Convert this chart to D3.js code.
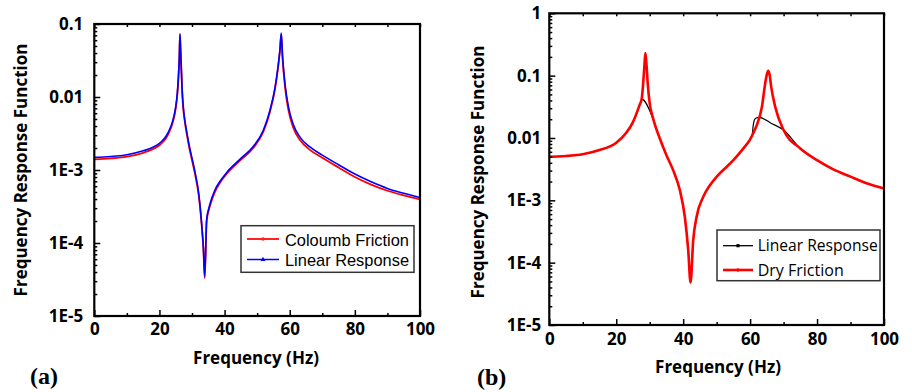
<!DOCTYPE html>
<html lang="en">
<head>
    <meta charset="UTF-8">
    <title>Frequency Response Function</title>
    <script src="https://d3js.org/d3.v7.min.js"></script>
    <style>
        body {
            margin: 0;
            padding: 0;
            background: #fff;
        }
        svg {
            display: block;
        }
        .tick-label text {
            font-family: "Open Sans", sans-serif;
            font-weight: bold;
            font-size: 17px;
            fill: #000;
        }
        .axis-title {
            font-family: "Open Sans", sans-serif;
            font-weight: bold;
            font-size: 17px;
        }
        .panel-label {
            font-family: "Liberation Serif", serif;
            font-weight: bold;
            font-size: 24px;
        }
    </style>
</head>
<body>
    <svg id="chart" width="912" height="392"></svg>

    <script>
        // Panel (a): values
        const freqA = [0, 5, 10, 15, 18, 20, 21, 22, 23, 24, 24.5, 25, 25.5, 25.8, 26.1, 26.3, 26.5, 26.8, 27.0, 27.3, 27.8,
            28.4, 29.2, 30, 31, 32, 33, 33.5, 33.9,
            34.5, 35.5, 37.1, 38.6, 40.6, 44.7, 48.8, 51.9, 53.9, 55.5, 56.5, 57.0, 57.4, 57.8, 58.6, 59.6, 61.1, 63.2, 66,
            70, 75, 80, 85, 90, 95, 100];
        const coulombA = [1.40e-3, 1.44e-3, 1.52e-3, 1.72e-3, 1.93e-3, 2.18e-3, 2.4e-3, 2.72e-3, 3.3e-3, 4.35e-3, 5.3e-3,
            7.0e-3, 0.0109, 0.017, 0.033, 0.070, 0.042, 0.019, 0.0114, 7.1e-3, 4.55e-3,
            3.1e-3, 1.98e-3, 1.36e-3, 8.5e-4, 4.7e-4, 1.68e-4, 8.2e-5, 3.3e-5,
            2.0e-4, 3.2e-4, 5.1e-4, 6.7e-4, 8.8e-4, 1.34e-3, 2.0e-3, 3.35e-3, 6.2e-3, 0.013, 0.027, 0.043, 0.072, 0.034,
            0.0132, 6.6e-3, 3.8e-3, 2.55e-3, 1.92e-3, 1.47e-3, 1.08e-3, 8.0e-4, 6.3e-4, 5.2e-4, 4.5e-4, 3.97e-4];
        const linearA = [1.49e-3, 1.53e-3, 1.62e-3, 1.83e-3, 2.05e-3, 2.32e-3, 2.55e-3, 2.9e-3, 3.5e-3, 4.6e-3, 5.6e-3,
            7.4e-3, 0.0115, 0.018, 0.035, 0.074, 0.045, 0.020, 0.012, 7.5e-3, 4.8e-3,
            3.3e-3, 2.1e-3, 1.45e-3, 9.0e-4, 5.0e-4, 1.75e-4, 8.5e-5, 3.5e-5,
            2.1e-4, 3.4e-4, 5.4e-4, 7.0e-4, 9.2e-4, 1.4e-3, 2.1e-3, 3.5e-3, 6.5e-3, 0.0135, 0.028, 0.045, 0.075, 0.036,
            0.0145, 7.4e-3, 4.2e-3, 2.8e-3, 2.1e-3, 1.6e-3, 1.18e-3, 8.8e-4, 6.9e-4, 5.6e-4, 4.8e-4, 4.2e-4];

        // Panel (b)
        const freqB = [0, 5, 10, 15, 20, 23, 25, 27, 27.6, 28, 28.4, 28.7, 29.0, 29.4, 30, 31, 33, 35, 37, 39, 40.5, 41.5,
            42.2, 43, 44, 46, 48, 50, 55, 58, 60, 61, 62, 63.5, 64.5, 65.0, 65.4, 65.8, 66.3, 67.5, 70, 75, 80, 85, 90, 95, 100];
        const dryB = [5.0e-3, 5.15e-3, 5.5e-3, 6.4e-3, 8.4e-3, 0.0121, 0.018, 0.034, 0.042, 0.07, 0.14, 0.23, 0.16, 0.075,
            0.036, 0.0206, 9.9e-3, 5.3e-3, 3.05e-3, 1.46e-3, 5.4e-4, 1.6e-4,
            4.8e-5, 2.3e-4, 5.4e-4, 1.14e-3, 1.75e-3, 2.39e-3, 4.4e-3, 6.8e-3, 9.5e-3, 0.0122, 0.0161, 0.031, 0.075, 0.105,
            0.12, 0.105, 0.066, 0.0316, 0.0134, 6.8e-3, 4.4e-3, 3.1e-3, 2.4e-3, 1.86e-3, 1.55e-3];
        const freqBLinear = [0, 5, 10, 15, 20, 23, 25, 27, 27.6, 30.9, 33, 35, 37, 39, 40.5, 41.5, 42.2, 43, 44, 46, 48, 50,
            55, 58, 60, 60.6, 60.9, 61.3, 61.8, 62.7, 66.4, 70, 75, 80, 85, 90, 95, 100];
        const linearB = [5.0e-3, 5.15e-3, 5.5e-3, 6.4e-3, 8.4e-3, 0.0121, 0.018, 0.034, 0.042, 0.021, 9.9e-3, 5.3e-3,
            3.05e-3, 1.46e-3, 5.4e-4, 1.6e-4, 4.8e-5, 2.3e-4, 5.4e-4, 1.14e-3, 1.75e-3, 2.39e-3,
            4.4e-3, 6.8e-3, 9.5e-3, 0.0108, 0.0155, 0.0196, 0.0209, 0.0214, 0.0171, 0.0134, 6.8e-3, 4.4e-3, 3.1e-3, 2.4e-3,
            1.86e-3, 1.55e-3];

        const xTicks = [0, 20, 40, 60, 80, 100];
        const xMinor = [10, 30, 50, 70, 90];
        const yLabelsA = ["0.1", "0.01", "1E-3", "1E-4", "1E-5"];
        const yLabelsB = ["1", "0.1", "0.01", "1E-3", "1E-4", "1E-5"];

        const svg = d3.select("#chart");

        function drawPanel(p) {
            const x = d3.scaleLinear().domain([0, 100]).range([p.left, p.right]);
            const y = d3.scaleLog().domain([1e-5, p.yMax]).range([p.bottom, p.top]);
            const g = svg.append("g");

            // decade values and log minor ticks
            const decades = d3.range(-5, Math.round(Math.log10(p.yMax)) + 1).map(e => Math.pow(10, e));
            const minors = [];
            decades.slice(0, -1).forEach(d => { for (let k = 2; k <= 9; k++) minors.push(d * k); });
            const labelOf = v => p.yLabels[decades.length - 1 - decades.findIndex(d => Math.abs(d - v) / d < 1e-6)];

            // lines
            const line = (fs, vs) => d3.line()
                .x((d, i) => x(fs[i]))
                .y(d => y(d))
                .curve(d3.curveMonotoneX)(vs);

            p.series.forEach(s => {
                g.append("path")
                    .attr("d", line(s.f, s.v))
                    .attr("fill", "none")
                    .attr("stroke", s.color)
                    .attr("stroke-width", s.width)
                    .attr("stroke-linejoin", "round");
            });

            // bottom axis (ticks inward)
            g.append("g")
                .attr("class", "tick-label")
                .attr("transform", `translate(0,${p.bottom})`)
                .call(d3.axisBottom(x).tickValues(xTicks).tickSize(-6).tickPadding(p.xPad).tickFormat(d3.format("d")))
                .call(a => a.select(".domain").remove());
            g.append("g")
                .attr("transform", `translate(0,${p.bottom})`)
                .call(d3.axisBottom(x).tickValues(xMinor).tickSize(-3).tickFormat(""))
                .call(a => a.select(".domain").remove());
            // top axis small ticks
            g.append("g")
                .attr("transform", `translate(0,${p.top})`)
                .call(d3.axisTop(x).tickValues(xTicks.concat(xMinor)).tickSize(-3).tickFormat(""))
                .call(a => a.select(".domain").remove());

            // left axis
            g.append("g")
                .attr("class", "tick-label")
                .attr("transform", `translate(${p.left},0)`)
                .call(d3.axisLeft(y).tickValues(decades).tickSize(-6).tickPadding(p.yPad).tickFormat(labelOf))
                .call(a => a.select(".domain").remove());
            g.append("g")
                .attr("transform", `translate(${p.left},0)`)
                .call(d3.axisLeft(y).tickValues(minors).tickSize(-3).tickFormat(""))
                .call(a => a.select(".domain").remove());

            g.selectAll(".tick line").attr("stroke", "#000").attr("stroke-width", 1.5);

            // frame
            g.append("rect")
                .attr("x", p.left).attr("y", p.top)
                .attr("width", p.right - p.left).attr("height", p.bottom - p.top)
                .attr("fill", "none").attr("stroke", "#000").attr("stroke-width", 2.2);

            // axis titles
            g.append("text")
                .attr("class", "axis-title")
                .attr("x", p.xTitle[0]).attr("y", p.xTitle[1])
                .attr("text-anchor", "middle")
                .text("Frequency (Hz)");
            g.append("text")
                .attr("class", "axis-title")
                .attr("transform", `translate(${p.yTitle[0]},${p.yTitle[1]}) rotate(-90)`)
                .attr("text-anchor", "middle")
                .text("Frequency Response Function");

            // panel label
            g.append("text")
                .attr("class", "panel-label")
                .attr("x", p.tag[0]).attr("y", p.tag[1])
                .text(p.tagText);

            // legend
            const L = p.legend;
            g.append("rect")
                .attr("x", L.x).attr("y", L.y).attr("width", L.w).attr("height", L.h)
                .attr("fill", "#fff").attr("stroke", "#333").attr("stroke-width", 1.5);
            L.items.forEach((it, i) => {
                const cy = L.rows[i];
                g.append("line")
                    .attr("x1", L.lx1).attr("x2", L.lx2).attr("y1", cy).attr("y2", cy)
                    .attr("stroke", it.color).attr("stroke-width", it.width);
                const mx = (L.lx1 + L.lx2) / 2;
                g.append("path")
                    .attr("transform", `translate(${mx},${cy})`)
                    .attr("d", d3.symbol().type(it.symbol).size(10)())
                    .attr("fill", it.color);
                g.append("text")
                    .attr("x", L.tx).attr("y", cy + L.base)
                    .attr("font-family", L.font)
                    .attr("font-size", L.size)
                    .attr("textLength", it.len)
                    .attr("lengthAdjust", "spacingAndGlyphs")
                    .text(it.label);
            });
        }

        drawPanel({
            left: 94.3, right: 420, top: 24, bottom: 316, yMax: 0.1,
            yLabels: yLabelsA, xPad: 7, yPad: 11,
            xTitle: [256, 364], yTitle: [27, 170], tag: [30, 384], tagText: "(a)",
            series: [
                { f: freqA, v: coulombA, color: "#ff0000", width: 1.8 },
                { f: freqA, v: linearA, color: "#0000ff", width: 1.6 }
            ],
            legend: {
                x: 241, y: 225.7, w: 173, h: 46.6, lx1: 247, lx2: 279, tx: 285,
                rows: [239, 259.5], base: 6.5, font: "Liberation Sans, Arial, sans-serif", size: 17,
                items: [
                    { label: "Coloumb Friction", color: "#ff2020", width: 2, symbol: d3.symbolCircle, len: 124 },
                    { label: "Linear Response", color: "#0000ff", width: 1.5, symbol: d3.symbolTriangle, len: 124 }
                ]
            }
        });

        drawPanel({
            left: 549.3, right: 884, top: 13.3, bottom: 325, yMax: 1,
            yLabels: yLabelsB, xPad: 8, yPad: 8,
            xTitle: [718, 372.5], yTitle: [483.5, 172], tag: [477, 385], tagText: "(b)",
            series: [
                { f: freqBLinear, v: linearB, color: "#000000", width: 1.2 },
                { f: freqB, v: dryB, color: "#ff0000", width: 2.6 }
            ],
            legend: {
                x: 717, y: 230, w: 163, h: 50.7, lx1: 723, lx2: 753, tx: 757.7,
                rows: [245.7, 270], base: 5.5, font: "Open Sans, sans-serif", size: 16,
                items: [
                    { label: "Linear Response", color: "#000000", width: 1.3, symbol: d3.symbolSquare, len: 120 },
                    { label: "Dry Friction", color: "#ff0000", width: 2.6, symbol: d3.symbolCircle, len: 86 }
                ]
            }
        });
    </script>
</body>
</html>
